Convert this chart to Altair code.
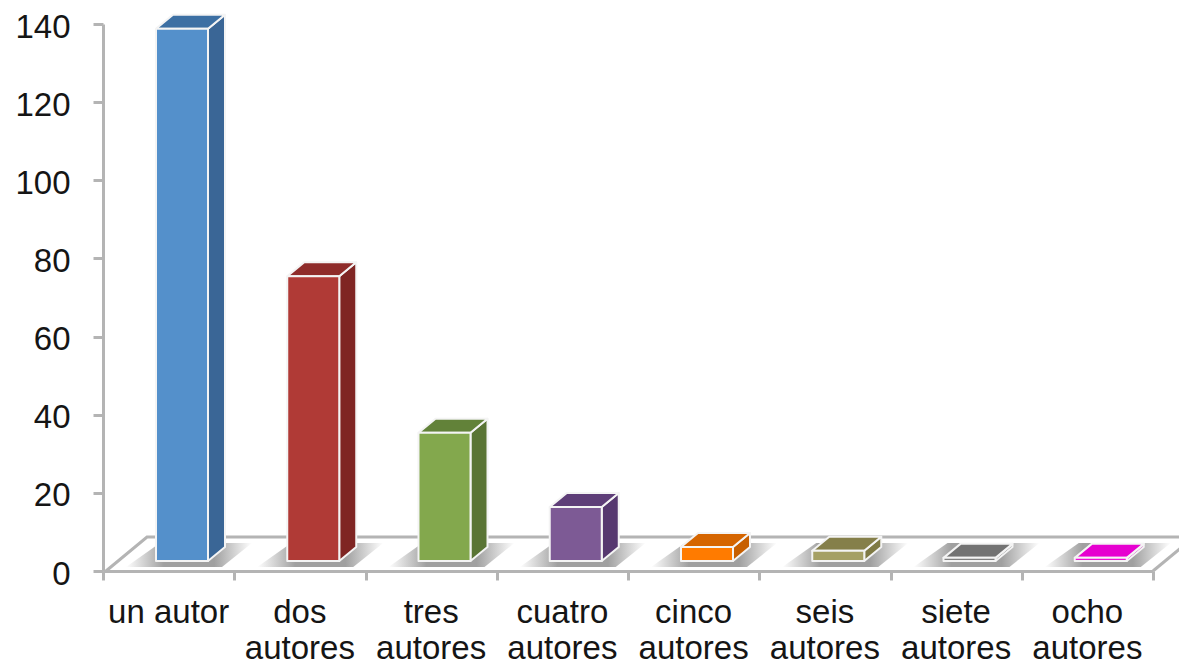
import altair as alt
import pandas as pd

categories = ["un autor", "dos\nautores", "tres\nautores", "cuatro\nautores",
              "cinco\nautores", "seis\nautores", "siete\nautores", "ocho\nautores"]
values = [136.2, 72.9, 32.8, 13.8, 3.6, 2.6, 0.8, 0.8]
front_colors = ["#5490cb", "#b03a36", "#83a84d", "#7d5a95", "#ff7b00", "#a5a065", "#808080", "#ee10d8"]
side_colors = ["#3a6696", "#7f2523", "#5a7535", "#56386f", "#c75f00", "#7f7a45", "#666666", "#c000b0"]
top_colors = ["#3c6fa3", "#8f2c2a", "#628239", "#5e3e78", "#d56500", "#857f4a", "#737373", "#e600d0"]
y_ticks = [0, 20, 40, 60, 80, 100, 120, 140]
x_ticks = [0, 1, 2, 3, 4, 5, 6, 7, 8]

W, H = 1050, 547
PX = W / 8
PY = H / 140
BASE = 10 / PY
LEFT, RIGHT = 53 / PX, 105 / PX
DX, DY = 17 / PX, 14 / PY
GRID = "#b4b4b4"
FONT = "Liberation Sans"
INK = "#151515"

x_scale = alt.Scale(domain=[0, 8], nice=False)
y_scale = alt.Scale(domain=[0, 140], nice=False)

front, side, top, shadow = [], [], [], []
for i, v in enumerate(values):
    l, r = i + LEFT, i + RIGHT
    front.append(dict(b=i, x=l, x2=r, y=BASE, y2=BASE + v, c=front_colors[i]))
    side += [dict(b=i, x=r, y=BASE, y2=BASE + v, c=side_colors[i]),
             dict(b=i, x=r + DX, y=BASE + DY, y2=BASE + v + DY, c=side_colors[i])]
    top += [dict(b=i, y=BASE + v, x=l, x2=r, c=top_colors[i]),
            dict(b=i, y=BASE + v + DY, x=l + DX, x2=r + DX, c=top_colors[i])]
    shadow += [dict(b=i, y=4 / PY, x=l - 30 / PX, x2=l + 66 / PX),
               dict(b=i, y=28 / PY, x=l + 4 / PX, x2=l + 96 / PX)]

X = alt.X("x:Q", scale=x_scale, title=None,
          axis=alt.Axis(values=x_ticks, labels=False, grid=False, tickSize=9, tickWidth=3,
                        tickColor=GRID, domainColor=GRID, domainWidth=3))
Y = alt.Y("y:Q", scale=y_scale, title=None,
          axis=alt.Axis(values=y_ticks, grid=False, tickSize=10, tickWidth=3, tickColor=GRID,
                        domainColor=GRID, domainWidth=3, labelFont=FONT, labelFontSize=33,
                        labelColor=INK, labelPadding=23, labelOffset=3))

axes = alt.Chart(pd.DataFrame(dict(x=[0, 8], y=[0, 0]))).mark_point(opacity=0).encode(x=X, y=Y)

floor_back = 34 / PY
floor = pd.DataFrame([
    dict(s=0, x=3 / PX, y=0), dict(s=0, x=44 / PX, y=floor_back),
    dict(s=0, x=8 + 34 / PX, y=floor_back),
    dict(s=1, x=8, y=0), dict(s=1, x=8 + 41 / PX, y=floor_back),
])
floor_lines = alt.Chart(floor).mark_line(color=GRID, strokeWidth=3, order=False).encode(
    x=alt.X("x:Q", scale=x_scale), y=alt.Y("y:Q", scale=y_scale), detail="s:N")

shade = alt.Gradient(gradient="linear", x1=0, x2=1, y1=0, y2=0, stops=[
    alt.GradientStop(offset=0, color="#ffffff"),
    alt.GradientStop(offset=0.3, color="#a0a0a0"),
    alt.GradientStop(offset=0.7, color="#a0a0a0"),
    alt.GradientStop(offset=1, color="#ffffff"),
])
shadows = alt.Chart(pd.DataFrame(shadow)).mark_area(orient="horizontal", color=shade).encode(
    x=alt.X("x:Q", scale=x_scale), x2="x2:Q", y=alt.Y("y:Q", scale=y_scale), detail="b:N")

EDGE = dict(stroke="#f4f4f4", strokeWidth=2, strokeJoin="round")
fill = alt.Color("c:N", scale=None)
side_layer = alt.Chart(pd.DataFrame(side)).mark_area(**EDGE).encode(
    x=alt.X("x:Q", scale=x_scale), y=alt.Y("y:Q", scale=y_scale), y2="y2:Q", fill=fill, detail="b:N")
top_layer = alt.Chart(pd.DataFrame(top)).mark_area(orient="horizontal", **EDGE).encode(
    x=alt.X("x:Q", scale=x_scale), x2="x2:Q", y=alt.Y("y:Q", scale=y_scale), fill=fill, detail="b:N")
front_layer = alt.Chart(pd.DataFrame(front)).mark_rect(**EDGE).encode(
    x=alt.X("x:Q", scale=x_scale), x2="x2:Q", y=alt.Y("y:Q", scale=y_scale), y2="y2:Q", fill=fill)

labels = alt.Chart(pd.DataFrame(dict(x=[i + 0.5 for i in range(8)], t=categories))).mark_text(
    font=FONT, fontSize=33, color=INK, lineBreak="\n", lineHeight=36, baseline="alphabetic", align="center"
).encode(x=alt.X("x:Q", scale=x_scale), y=alt.value(H + 52), text="t:N")

chart = alt.layer(
    axes, floor_lines, shadows, side_layer, top_layer, front_layer, labels
).properties(
    width=W, height=H,
    padding={"left": 95, "top": 16, "right": 26, "bottom": 96},
    autosize=alt.AutoSizeParams(type="none"),
    background="white",
).configure_view(stroke=None)

chart.save("out.html", embed_options={"renderer": "svg", "actions": False})
